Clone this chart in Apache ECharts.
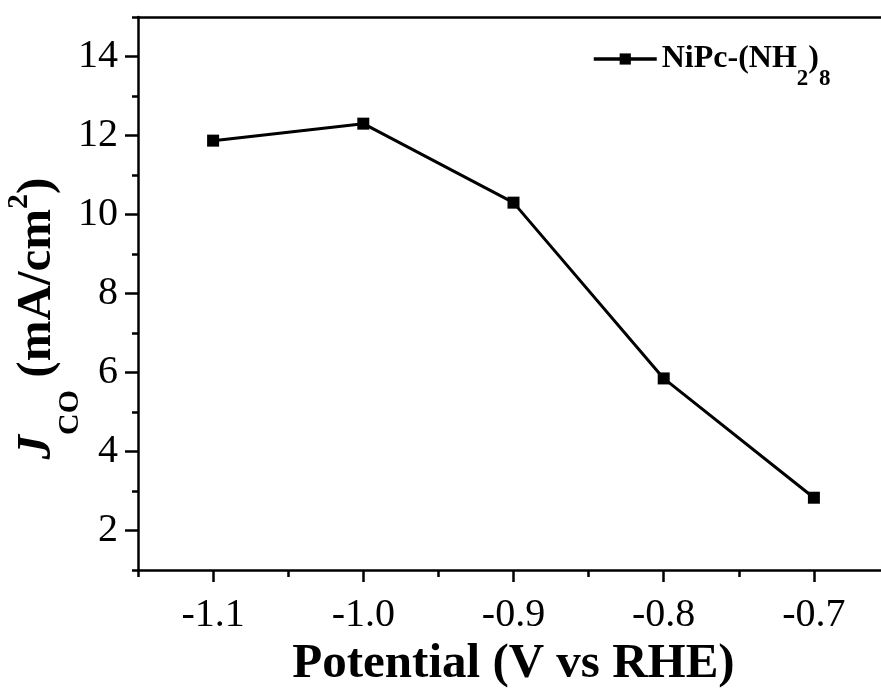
<!DOCTYPE html>
<html>
<head>
<meta charset="utf-8">
<script src="https://cdn.jsdelivr.net/npm/echarts@6/dist/echarts.min.js"></script>
<style>
  html, body { margin: 0; padding: 0; background: #fff; }
  #chart { width: 881px; height: 688px; }
</style>
</head>
<body>
<div id="chart"></div>
<script>
const potential = [-1.1, -1.0, -0.9, -0.8, -0.7]
const jco = [11.87, 12.3, 10.3, 5.85, 2.83]
const xMajor = [-1.1, -1.0, -0.9, -0.8, -0.7]
const xMinor = [-1.15, -1.05, -0.95, -0.85, -0.75, -0.65]
const yMajor = [2, 4, 6, 8, 10, 12, 14]
const yMinor = [1, 3, 5, 7, 9, 11, 13, 15]

const font = 'Liberation Serif'
const black = '#000'
const lineW = 2.5

const chart = echarts.init(document.getElementById('chart'))

// hidden helper axes carry the short minor ticks and the box lines
function helperAxis(extra) {
  return Object.assign({
    type: 'value',
    axisLabel: { show: false },
    splitLine: { show: false },
    axisLine: { show: false },
    axisTick: { show: false }
  }, extra)
}

chart.setOption({
  animation: false,
  backgroundColor: '#fff',
  grid: { left: 138, top: 17, width: 751, bottom: 118, outerBoundsMode: 'none', containLabel: false },
  legend: {
    left: 587,
    top: 38,
    itemWidth: 63,
    itemHeight: 14,
    itemGap: 0,
    lineStyle: { width: 3.5 },
    textStyle: {
      fontFamily: font,
      fontSize: 32,
      fontWeight: 'bold',
      color: black,
      rich: {
        b: { fontFamily: font, fontSize: 32, fontWeight: 'bold', color: black },
        s: { fontFamily: font, fontSize: 23, fontWeight: 'bold', color: black, padding: [40, 0, 0, 0] }
      }
    },
    formatter: function() {
      return '{b|NiPc-(NH}{s|2}{b|)}{s|8}'
    },
    data: ['NiPc-(NH2)8']
  },
  xAxis: [
    {
      type: 'value',
      min: -1.15,
      max: -0.65,
      name: 'Potential (V vs RHE)',
      nameLocation: 'middle',
      nameGap: 70,
      nameMoveOverlap: false,
      nameTextStyle: { fontFamily: font, fontSize: 49, fontWeight: 'bold', color: black },
      axisLine: { lineStyle: { color: black, width: lineW } },
      axisTick: { show: true, inside: false, length: 12, customValues: xMajor, lineStyle: { color: black, width: lineW } },
      axisLabel: {
        customValues: xMajor,
        margin: 25,
        fontFamily: font,
        fontSize: 40,
        color: black,
        formatter: function(v) { return v.toFixed(1) }
      },
      splitLine: { show: false }
    },
    helperAxis({
      min: -1.15,
      max: -0.65,
      position: 'bottom',
      axisTick: { show: true, length: 7, customValues: xMinor, lineStyle: { color: black, width: lineW } }
    }),
    helperAxis({
      min: -1.15,
      max: -0.65,
      position: 'top',
      axisLine: { show: true, lineStyle: { color: black, width: lineW } }
    })
  ],
  yAxis: [
    {
      type: 'value',
      min: 1,
      max: 15,
      name: '{j|J}{sub|CO} (mA/cm{sup|2})',
      nameLocation: 'middle',
      nameGap: 53,
      nameMoveOverlap: false,
      nameTextStyle: {
        fontFamily: font,
        fontSize: 49,
        fontWeight: 'bold',
        color: black,
        padding: [0, 50, 0, 0],
        rich: {
          j: { fontFamily: font, fontSize: 49, fontWeight: 'bold', fontStyle: 'italic', color: black },
          sub: { fontFamily: font, fontSize: 30, color: black, padding: [66, 0, 0, 0] },
          sup: { fontFamily: font, fontSize: 30, fontWeight: 'bold', color: black, padding: [0, 0, 36, 0] }
        }
      },
      axisLine: { lineStyle: { color: black, width: lineW } },
      axisTick: { show: true, length: 13, customValues: yMajor, lineStyle: { color: black, width: lineW } },
      axisLabel: { customValues: yMajor, margin: 20, fontFamily: font, fontSize: 40, color: black },
      splitLine: { show: false }
    },
    helperAxis({
      min: 1,
      max: 15,
      position: 'left',
      axisTick: { show: true, length: 6, customValues: yMinor, lineStyle: { color: black, width: lineW } }
    }),
    helperAxis({
      min: 1,
      max: 15,
      position: 'right',
      axisLine: { show: true, lineStyle: { color: black, width: lineW } }
    })
  ],
  series: [
    {
      name: 'NiPc-(NH2)8',
      type: 'line',
      data: potential.map((x, i) => [x, jco[i]]),
      symbol: 'rect',
      symbolSize: 12,
      itemStyle: { color: black },
      lineStyle: { color: black, width: 3 }
    }
  ]
})
</script>
</body>
</html>
